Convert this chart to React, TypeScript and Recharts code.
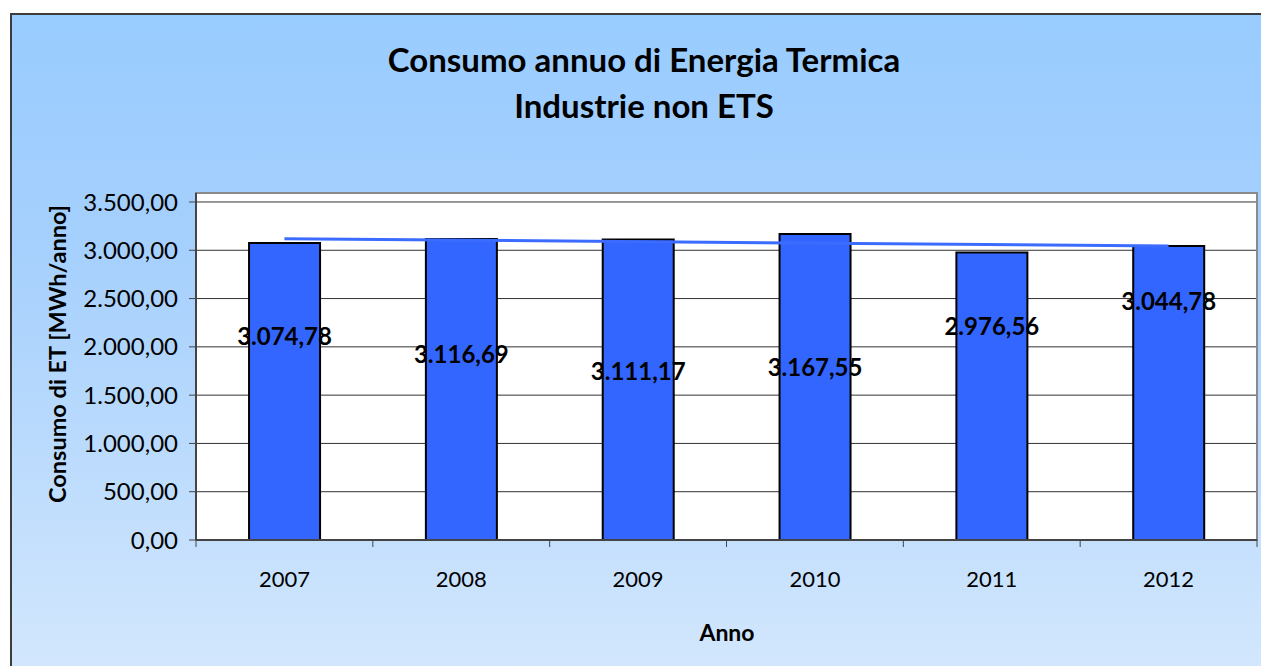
import { ComposedChart, Bar, Line, XAxis, YAxis, CartesianGrid, ReferenceArea, LabelList } from 'recharts';

const years = ['2007', '2008', '2009', '2010', '2011', '2012'];
const consumo = [3074.78, 3116.69, 3111.17, 3167.55, 2976.56, 3044.78];
// linear trend, read at the first and last year
const trendEnds = [3119, null, null, null, null, 3045];
const yTicks = [0, 500, 1000, 1500, 2000, 2500, 3000, 3500];
// height (in MWh) at which each value label sits inside its bar
const labelLevel = [2120, 1935, 1750, 1800, 2225, 2485];

const data = years.map((anno, i) => ({ anno, consumo: consumo[i], trend: trendEnds[i] }));

const W = 1261;
const H = 666;
const Y_AXIS_W = 196;
const X_AXIS_H = 126;
const TOP = 193;
const RIGHT = 4;
const PLOT_BOTTOM = H - X_AXIS_H;
const BAND = (W - Y_AXIS_W - RIGHT) / years.length;
const FONT = 'Lato, "Open Sans", sans-serif';

const fmt = (v: number) => {
  const [int, dec] = v.toFixed(2).split('.');
  return int.replace(/\B(?=(\d{3})+(?!\d))/g, '.') + ',' + dec;
};

const XTick = (props: any) => {
  const { x, payload, index } = props;
  const half = BAND / 2;
  return (
    <g>
      <line x1={x - half} x2={x - half} y1={PLOT_BOTTOM} y2={PLOT_BOTTOM + 7} stroke="#444" />
      {index === years.length - 1 && (
        <line x1={x + half} x2={x + half} y1={PLOT_BOTTOM} y2={PLOT_BOTTOM + 7} stroke="#444" />
      )}
      <text x={x} y={PLOT_BOTTOM + 38} textAnchor="middle" dominantBaseline="central" fontSize={22} fill="#000" fontFamily={FONT}>
        {payload.value}
      </text>
    </g>
  );
};

const ValueLabel = (props: any) => {
  const { x, y, width, height, value, index } = props;
  const ly = y + height * (1 - labelLevel[index] / value);
  return (
    <text x={x + width / 2} y={ly} textAnchor="middle" dominantBaseline="central" fontSize={24} fontWeight="bold" fill="#000" fontFamily={FONT}>
      {fmt(value)}
    </text>
  );
};

export default function App() {
  return (
    <div style={{ position: 'absolute', left: 0, top: 0, width: W, height: H, overflow: 'hidden', background: '#fff', fontFamily: FONT }}>
      <div
        style={{
          position: 'absolute',
          left: 10,
          top: 13,
          width: W + 20,
          height: H + 20,
          border: '2px solid #3c3c3c',
          background: 'linear-gradient(to bottom, #99ccff 0%, #a6d0fd 35%, #d6e9fd 100%)',
        }}
      />
      <div style={{ position: 'absolute', left: 0, width: 1288, top: 36, textAlign: 'center', fontSize: 33, fontWeight: 'bold', lineHeight: '46px', color: '#000' }}>
        Consumo annuo di Energia Termica
        <br />
        Industrie non ETS
      </div>
      <div
        style={{
          position: 'absolute',
          left: 57,
          top: 354,
          transform: 'translate(-50%, -50%) rotate(-90deg)',
          whiteSpace: 'nowrap',
          fontSize: 23.5,
          fontWeight: 'bold',
          color: '#000',
        }}
      >
        Consumo di ET [MWh/anno]
      </div>
      <div style={{ position: 'absolute', left: 727, top: 632, transform: 'translate(-50%, -50%)', fontSize: 23, fontWeight: 'bold', color: '#000' }}>
        Anno
      </div>
      <div style={{ position: 'absolute', left: 0, top: 0 }}>
        <ComposedChart width={W} height={H} data={data} margin={{ top: TOP, right: RIGHT, left: 0, bottom: 0 }} barCategoryGap="30%">
          <CartesianGrid horizontal vertical={false} fill="#fff" stroke="#333" strokeOpacity={1} />
          <ReferenceArea y1={0} y2={3593} fill="none" stroke="#8a8a8a" strokeWidth={2} />
          <XAxis dataKey="anno" height={X_AXIS_H} tick={<XTick />} tickLine={false} axisLine={{ stroke: '#444', strokeWidth: 2 }} interval={0} />
          <YAxis
            width={Y_AXIS_W}
            domain={[0, 3593]}
            ticks={yTicks}
            tickFormatter={fmt}
            tick={{ fontSize: 24, fill: '#000', fontFamily: FONT }}
            tickSize={7}
            tickMargin={11}
            tickLine={{ stroke: '#444' }}
            axisLine={{ stroke: '#444', strokeWidth: 2 }}
            allowDataOverflow
          />
          <Bar dataKey="consumo" fill="#3366ff" stroke="#000" strokeWidth={2} isAnimationActive={false}>
            <LabelList dataKey="consumo" content={<ValueLabel />} />
          </Bar>
          <Line dataKey="trend" type="linear" connectNulls stroke="#3b6cff" strokeWidth={3} dot={false} activeDot={false} isAnimationActive={false} />
        </ComposedChart>
      </div>
    </div>
  );
}
